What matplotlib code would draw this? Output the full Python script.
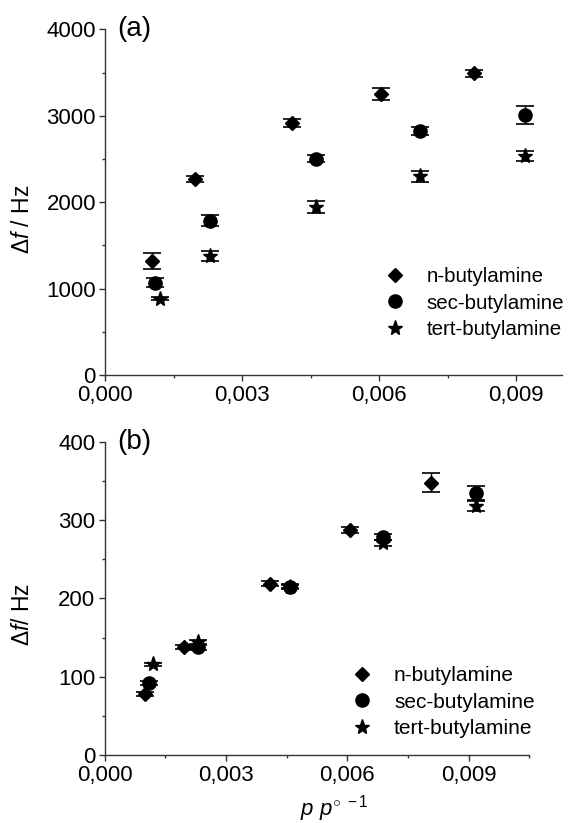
import numpy as np
import matplotlib
matplotlib.use('Agg')
from matplotlib import pyplot as plt
from matplotlib.ticker import MultipleLocator, FuncFormatter

plt.rcParams['font.family'] = ['Liberation Sans', 'DejaVu Sans']
plt.rcParams['mathtext.fontset'] = 'custom'
plt.rcParams['mathtext.it'] = 'Liberation Sans:italic'
plt.rcParams['mathtext.rm'] = 'Liberation Sans'

names = ['n-butylamine', 'sec-butylamine', 'tert-butylamine']
markers = ['D', 'o', '*']
msizes = [7.5, 9.5, 11]

# (a) frequency shift, Hz
xa_n = [0.00102, 0.00198, 0.00409, 0.00605, 0.00808]
ya_n = [1320, 2268, 2914, 3249, 3492]
ea_n = [92, 30, 50, 70, 40]
xa_s = [0.00109, 0.00230, 0.00461, 0.00690, 0.00920]
ya_s = [1070, 1786, 2502, 2826, 3003]
ea_s = [52, 63, 40, 44, 104]
xa_t = [0.00120, 0.00230, 0.00461, 0.00690, 0.00920]
ya_t = [882, 1382, 1944, 2298, 2529]
ea_t = [15, 58, 69, 64, 58]

# (b) frequency shift, Hz
xb_n = [0.00099, 0.00197, 0.00408, 0.00606, 0.00808]
yb_n = [78, 138, 219, 287, 348]
eb_n = [3, 3, 3, 4, 12]
xb_s = [0.00110, 0.00230, 0.00458, 0.00689, 0.00918]
yb_s = [92, 138, 215, 278, 335]
eb_s = [3, 4, 3, 4, 9]
xb_t = [0.00119, 0.00230, 0.00458, 0.00689, 0.00918]
yb_t = [116, 144, 215, 271, 318]
eb_t = [2, 3, 2, 4, 7]

W, H = 568, 823
fig = plt.figure(figsize=(W/100, H/100), dpi=100)

def px_axes(l, r, t, b):
    return fig.add_axes([l/W, 1 - b/H, (r - l)/W, (b - t)/H])

ax1 = px_axes(105, 562, 29.3, 375)
ax2 = px_axes(104.5, 529.3, 441.8, 755)

comma = FuncFormatter(lambda v, p: ('%.3f' % v).replace('.', ','))

def style(ax, xmax, ymax, ymajor):
    ax.set_xlim(0, xmax)
    ax.set_ylim(0, ymax)
    for s in ['top', 'right']:
        ax.spines[s].set_visible(False)
    for s in ['left', 'bottom']:
        ax.spines[s].set_linewidth(1.0)
        ax.spines[s].set_color('#333333')
    ax.xaxis.set_major_locator(MultipleLocator(0.003))
    ax.xaxis.set_minor_locator(MultipleLocator(0.0015))
    ax.yaxis.set_major_locator(MultipleLocator(ymajor))
    ax.yaxis.set_minor_locator(MultipleLocator(ymajor/2))
    ax.xaxis.set_major_formatter(comma)
    ax.tick_params(which='major', length=4.5, width=1, color='#333333',
                   labelsize=16, pad=2)
    ax.tick_params(axis='x', which='major', pad=3)
    ax.tick_params(which='minor', length=2.5, width=1, color='#333333')

def series(ax, xs, ys, es, caps):
    handles = []
    for x, y, e, m, ms, lab in zip(xs, ys, es, markers, msizes, names):
        ax.errorbar(x, y, yerr=e, fmt='none', ecolor='black', elinewidth=1,
                    capsize=caps, capthick=1.2, zorder=2)
        h, = ax.plot(x, y, linestyle='none', marker=m, markersize=ms,
                     color='black', label=lab, zorder=3, clip_on=False)
        handles.append(h)
    return handles

style(ax1, 0.0100, 4000, 1000)
h1 = series(ax1, [xa_n, xa_s, xa_t], [ya_n, ya_s, ya_t], [ea_n, ea_s, ea_t], 6.5)
ax1.set_ylabel(r'$\Delta f$ / Hz', fontsize=16.5)
ax1.yaxis.set_label_coords(-0.155, 0.45)
ax1.text(0.026, 1.0, '(a)', transform=ax1.transAxes, fontsize=20,
         va='center', ha='left')
ax1.legend(handles=h1, loc='upper left', bbox_to_anchor=(0.582, 0.335),
           frameon=False, fontsize=14.8, handletextpad=0.8,
           labelspacing=0.35, borderaxespad=0, handlelength=1.5)

style(ax2, 0.0105, 400, 100)
h2 = series(ax2, [xb_n, xb_s, xb_t], [yb_n, yb_s, yb_t], [eb_n, eb_s, eb_t], 6.5)
ax2.set_ylabel(r'$\Delta f$/ Hz', fontsize=16.5)
ax2.yaxis.set_label_coords(-0.165, 0.45)
ax2.text(0.03, 1.0, '(b)', transform=ax2.transAxes, fontsize=20,
         va='center', ha='left')
ax2.legend(handles=h2, loc='upper left', bbox_to_anchor=(0.549, 0.31),
           frameon=False, fontsize=15, handletextpad=0.8,
           labelspacing=0.35, borderaxespad=0, handlelength=1.5)
ax2.set_xlabel(r'$p\ p^{\circ\ -1}$', fontsize=16)
ax2.xaxis.set_label_coords(0.54, -0.122)

fig.savefig('out.png', dpi=100)
plt.close(fig)
